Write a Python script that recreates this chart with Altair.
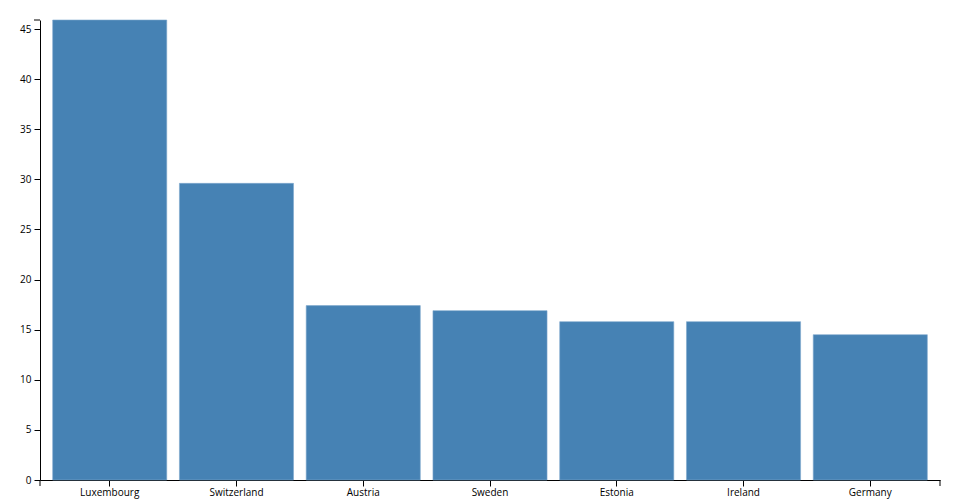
import altair as alt
import pandas as pd

countries = ["Luxembourg", "Switzerland", "Austria", "Sweden", "Estonia", "Ireland", "Germany"]
values = [45.9, 29.6, 17.4, 16.9, 15.8, 15.8, 14.5]

df = pd.DataFrame({"country": countries, "value": values})
ymax = max(values)

FONT = "Open Sans"

x_enc = alt.X("country:N", sort=countries, title=None,
              scale=alt.Scale(paddingInner=0.1, paddingOuter=0.1),
              axis=alt.Axis(labelAngle=0, tickSize=6, labelPadding=1, domainColor="black",
                            tickColor="black", labelColor="black", labelFont=FONT,
                            labelFontSize=10, grid=False))
y_scale = alt.Scale(domain=[0, ymax], nice=False, zero=True)

bars = alt.Chart(df).mark_bar(color="steelblue", stroke="#7ea7cc", strokeWidth=0.6).encode(
    x=x_enc,
    y=alt.Y("value:Q", scale=y_scale, title=None,
            axis=alt.Axis(values=list(range(0, 50, 5)), tickSize=6, labelPadding=3,
                          domainColor="black", tickColor="black", labelColor="black",
                          labelFont=FONT, labelFontSize=10, grid=False)),
)

# outer ticks of the axes (d3-style)
top_tick = alt.Chart(pd.DataFrame({"v": [ymax]})).mark_rule(color="black", strokeWidth=1).encode(
    y=alt.Y("v:Q", scale=y_scale), x=alt.value(-6), x2=alt.value(0)
)
end_ticks = alt.Chart(pd.DataFrame({"p": [0, 900]})).mark_rule(color="black", strokeWidth=1).encode(
    x=alt.X("p:Q", scale=None), y=alt.value(460), y2=alt.value(466)
)

chart = alt.layer(bars, top_tick, end_ticks).properties(
    width=900, height=460,
    autosize=alt.AutoSizeParams(type="none"),
    padding={"left": 32, "top": 12, "right": 12, "bottom": 20},
).configure_view(stroke=None)

chart.save("out.html", embed_options={"renderer": "svg", "actions": False})
